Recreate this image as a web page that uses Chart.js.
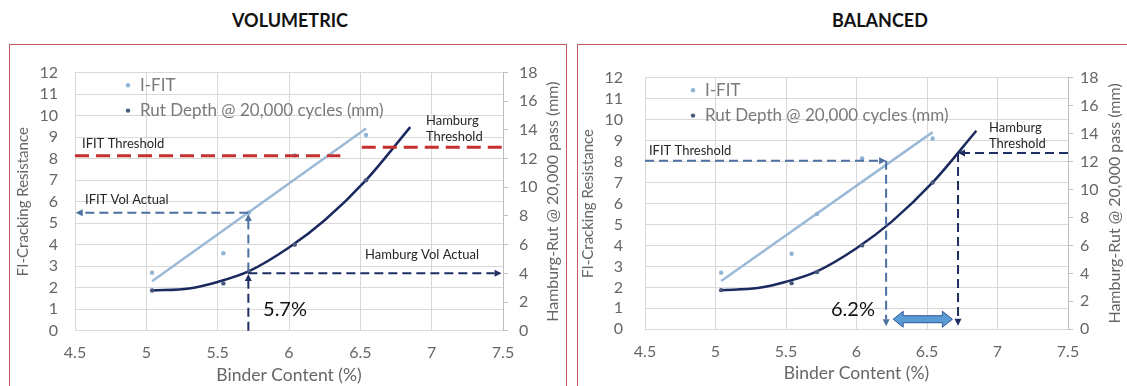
<!DOCTYPE html>
<html>
<head>
<meta charset="utf-8">
<script src="https://cdn.jsdelivr.net/npm/chart.js@4.4.1/dist/chart.umd.min.js"></script>
<style>
  html, body { margin: 0; padding: 0; background: #fff; width: 1127px; height: 386px; overflow: hidden; position: relative; }
  .title { position: absolute; top: 9px; font: bold 18px Lato, sans-serif; color: #111; transform: translateX(-50%); white-space: nowrap; }
  .frame { position: absolute; border: 1.5px solid #c75b5b; box-sizing: border-box; }
  canvas { position: absolute; }
</style>
</head>
<body>
<div class="title" style="left:290px">VOLUMETRIC</div>
<div class="title" style="left:880px">BALANCED</div>
<div class="frame" style="left:9px;top:44px;width:558px;height:380px"></div>
<div class="frame" style="left:577px;top:44px;width:570px;height:380px"></div>
<canvas id="vol" width="553" height="340" style="left:11px;top:46px"></canvas>
<canvas id="bal" width="548" height="340" style="left:579px;top:46px"></canvas>
<script>
// Measured mixes: binder content vs. I-FIT flexibility index and Hamburg rut depth
const binderContent = [5.04, 5.54, 5.72, 6.04, 6.54];
const ifitIndex     = [2.7, 3.6, 5.5, 8.15, 9.1];
const rutDepthMm    = [2.8, 3.3, 4.1, 6.0, 10.5];

// Trendlines (linear for I-FIT, polynomial for rut depth)
const ifitTrendX = [5.04, 6.54];
const ifitTrendY = [2.3, 9.4];
const rutTrendX  = [5.04, 5.3, 5.5, 5.72, 6.0, 6.25, 6.54, 6.85];
const rutTrendMm = [2.8, 2.95, 3.4, 4.15, 5.8, 7.7, 10.5, 14.2];

// Axis ticks
const binderTicks = [4.5, 5, 5.5, 6, 6.5, 7, 7.5];
const fiTicks     = [0, 1, 2, 3, 4, 5, 6, 7, 8, 9, 10, 11, 12];
const rutTicks    = [0, 2, 4, 6, 8, 10, 12, 14, 16, 18];

// Design limits and the binder contents they give
const volIfitThreshold = 8.13;   // FI
const volRutThreshold  = 12.8;   // mm
const volActualBinder  = 5.715;  // %
const volActualFi      = 5.48;
const volActualRut     = 4.0;
const balIfitThreshold = 8.04;
const balRutThreshold  = 12.6;
const balIfitBinder    = 6.21;
const balRutBinder     = 6.72;

const C = {
  ifit: '#9bbad8', ifitDot: '#8fb3d3',
  rut: '#1b2a5e', rutDot: '#48587e',
  red: '#c4302f', steel: '#4c70a0', navy: '#1f2f63',
  grid: '#d9d9d9', tick: '#666666', text: '#262626'
};
const FONT = 'Lato, sans-serif';

function pts(xs, ys) { return xs.map((x, i) => ({ x, y: ys[i] })); }

// Dashed guide lines, arrowheads and callout text, placed in data coordinates
const guidePlugin = {
  id: 'guides',
  afterDatasetsDraw(chart, args, opts) {
    const { ctx, scales } = chart;
    const xs = scales.x;
    for (const g of opts.items) {
      const ys = scales[g.axis || 'y'];
      ctx.save();
      if (g.type === 'line') {
        const x0 = xs.getPixelForValue(g.from[0]), y0 = ys.getPixelForValue(g.from[1]);
        const x1 = xs.getPixelForValue(g.to[0]),   y1 = ys.getPixelForValue(g.to[1]);
        const len = Math.hypot(x1 - x0, y1 - y0);
        const ux = (x1 - x0) / len, uy = (y1 - y0) / len;
        const head = g.arrow ? 7 : 0;
        ctx.strokeStyle = g.color; ctx.lineWidth = g.width; ctx.setLineDash(g.dash);
        ctx.beginPath();
        ctx.moveTo(x0, y0);
        ctx.lineTo(x1 - ux * head, y1 - uy * head);
        ctx.stroke();
        if (g.arrow) {
          ctx.setLineDash([]);
          ctx.fillStyle = g.color;
          const bx = x1 - ux * head, by = y1 - uy * head, w = 3.5;
          ctx.beginPath();
          ctx.moveTo(x1, y1);
          ctx.lineTo(bx - uy * w, by + ux * w);
          ctx.lineTo(bx + uy * w, by - ux * w);
          ctx.closePath();
          ctx.fill();
        }
      } else if (g.type === 'text') {
        ctx.font = g.font; ctx.fillStyle = g.color || C.text;
        ctx.textAlign = 'left'; ctx.textBaseline = 'middle';
        const x = xs.getPixelForValue(g.x), y = ys.getPixelForValue(g.y);
        [].concat(g.text).forEach((t, i) => ctx.fillText(t, x, y + i * (g.lineHeight || 0)));
      } else if (g.type === 'dblarrow') {
        const xa = xs.getPixelForValue(g.x0), xb = xs.getPixelForValue(g.x1), y = ys.getPixelForValue(g.y);
        const hl = 10, bh = 3.5, hh = 8;
        ctx.beginPath();
        ctx.moveTo(xa, y);
        ctx.lineTo(xa + hl, y - hh); ctx.lineTo(xa + hl, y - bh);
        ctx.lineTo(xb - hl, y - bh); ctx.lineTo(xb - hl, y - hh);
        ctx.lineTo(xb, y);
        ctx.lineTo(xb - hl, y + hh); ctx.lineTo(xb - hl, y + bh);
        ctx.lineTo(xa + hl, y + bh); ctx.lineTo(xa + hl, y + hh);
        ctx.closePath();
        ctx.fillStyle = '#5b9bd5'; ctx.fill();
        ctx.strokeStyle = '#2f5597'; ctx.lineWidth = 1; ctx.stroke();
      }
      ctx.restore();
    }
  }
};

// Legend drawn inside the plot area, one row per marker series
const insideLegend = {
  id: 'insideLegend',
  afterDraw(chart, args, opts) {
    const { ctx, chartArea } = chart;
    ctx.save();
    ctx.font = '17px ' + FONT; ctx.textBaseline = 'middle'; ctx.textAlign = 'left';
    opts.datasets.forEach((di, row) => {
      const ds = chart.data.datasets[di];
      const y = chartArea.top + opts.top + row * opts.rowGap;
      ctx.fillStyle = ds.backgroundColor;
      ctx.beginPath(); ctx.arc(chartArea.left + opts.dotX, y, 2.2, 0, Math.PI * 2); ctx.fill();
      ctx.fillStyle = '#7a7a7a';
      ctx.fillText(ds.label, chartArea.left + opts.textX, y);
    });
    ctx.restore();
  }
};

// Secondary-axis title, reading bottom to top beside the right-hand ticks
const rightTitle = {
  id: 'rightTitle',
  afterDraw(chart, args, opts) {
    const { ctx, chartArea, width } = chart;
    ctx.save();
    ctx.translate(width - opts.inset, (chartArea.top + chartArea.bottom) / 2);
    ctx.rotate(-Math.PI / 2);
    ctx.font = '16px ' + FONT; ctx.fillStyle = C.tick;
    ctx.textAlign = 'center'; ctx.textBaseline = 'middle';
    ctx.fillText(opts.text, 0, 0);
    ctx.restore();
  }
};

function setTicks(list) {
  return scale => { scale.ticks = list.map(v => ({ value: v })); };
}
const plain = v => String(v);

function makeChart(id, g, guides) {
  return new Chart(document.getElementById(id), {
    type: 'scatter',
    data: {
      datasets: [
        { label: 'I-FIT', data: pts(binderContent, ifitIndex), yAxisID: 'y',
          pointRadius: 2.2, pointBorderWidth: 0, backgroundColor: C.ifitDot, borderColor: C.ifitDot },
        { label: 'Rut Depth @ 20,000 cycles (mm)', data: pts(binderContent, rutDepthMm), yAxisID: 'y1',
          pointRadius: 2.2, pointBorderWidth: 0, backgroundColor: C.rutDot, borderColor: C.rutDot },
        { label: 'I-FIT trend', data: pts(ifitTrendX, ifitTrendY), yAxisID: 'y', showLine: true,
          pointRadius: 0, borderColor: C.ifit, borderWidth: 2.5 },
        { label: 'Rut trend', data: pts(rutTrendX, rutTrendMm), yAxisID: 'y1', showLine: true,
          pointRadius: 0, borderColor: C.rut, borderWidth: 2.5, cubicInterpolationMode: 'monotone' }
      ]
    },
    options: {
      responsive: false, animation: false, devicePixelRatio: 1,
      layout: { padding: { top: g.top, left: 0, right: 0, bottom: 0 } },
      plugins: {
        legend: { display: false }, tooltip: { enabled: false },
        guides: { items: guides },
        insideLegend: { datasets: [0, 1], dotX: g.legDot, textX: g.legText, top: 12.6, rowGap: 25.4 },
        rightTitle: { text: 'Hamburg-Rut @ 20,000 pass (mm)', inset: g.y1TitleInset }
      },
      scales: {
        x: {
          type: 'linear', min: 4.5, max: 7.5,
          afterBuildTicks: setTicks(binderTicks),
          afterFit: s => { s.height = g.xH; },
          grid: { color: C.grid, drawTicks: false, lineWidth: 1 },
          border: { display: true, color: C.grid },
          ticks: { color: C.tick, font: { family: FONT, size: 16 }, padding: g.xTickPad,
                   maxRotation: 0, autoSkip: false, callback: plain },
          title: { display: true, text: 'Binder Content (%)', color: C.tick,
                   font: { family: FONT, size: 17.5 }, padding: { top: 0, bottom: g.xTitlePad } }
        },
        y: {
          type: 'linear', position: 'left', min: 0, max: 12,
          afterBuildTicks: setTicks(fiTicks),
          afterFit: s => { s.width = g.yW; },
          grid: { color: C.grid, drawTicks: false },
          border: { display: true, color: C.grid },
          ticks: { color: C.tick, font: { family: FONT, size: 16 }, padding: g.yTickPad,
                   autoSkip: false, callback: plain },
          title: { display: true, text: 'FI-Cracking Resistance', color: C.tick,
                   font: { family: FONT, size: 15 }, padding: { top: g.yTitlePad, bottom: 0 } }
        },
        y1: {
          type: 'linear', position: 'right', min: 0, max: 18,
          afterBuildTicks: setTicks(rutTicks),
          afterFit: s => { s.width = g.y1W; },
          grid: { drawOnChartArea: false, drawTicks: true, tickLength: 5, color: '#bfbfbf' },
          border: { display: true, color: '#bfbfbf' },
          ticks: { color: C.tick, font: { family: FONT, size: 16 }, padding: g.y1TickPad,
                   autoSkip: false, callback: plain },
          title: { display: false }
        }
      }
    },
    plugins: [guidePlugin, insideLegend, rightTitle]
  });
}

const labelFont = '13px ' + FONT;
const pctFont = '20px ' + FONT;

const volGuides = [
  { type: 'line', from: [4.5, volIfitThreshold], to: [6.36, volIfitThreshold], color: C.red, width: 3, dash: [14, 7] },
  { type: 'line', axis: 'y1', from: [6.51, volRutThreshold], to: [7.5, volRutThreshold], color: C.red, width: 3, dash: [14, 7] },
  { type: 'line', from: [volActualBinder, volActualFi], to: [4.505, volActualFi], color: C.steel, width: 2, dash: [9, 5], arrow: true },
  { type: 'line', from: [volActualBinder, 2.75], to: [volActualBinder, 5.42], color: C.steel, width: 2, dash: [9, 5], arrow: true },
  { type: 'line', axis: 'y1', from: [volActualBinder, 0], to: [volActualBinder, 3.95], color: C.navy, width: 2, dash: [9, 5], arrow: true },
  { type: 'line', axis: 'y1', from: [volActualBinder, volActualRut], to: [7.49, volActualRut], color: C.navy, width: 2, dash: [9, 5], arrow: true },
  { type: 'text', x: 4.549, y: 8.67, text: 'IFIT Threshold', font: labelFont },
  { type: 'text', x: 4.57, y: 6.08, text: 'IFIT Vol Actual', font: labelFont },
  { type: 'text', x: 6.96, y: 9.78, text: ['Hamburg', 'Threshold'], lineHeight: 16, font: labelFont },
  { type: 'text', x: 6.533, y: 3.51, text: 'Hamburg Vol Actual', font: labelFont },
  { type: 'text', x: 5.818, y: 1.0, text: '5.7%', font: pctFont, color: '#111' }
];

const balGuides = [
  { type: 'line', from: [4.5, balIfitThreshold], to: [balIfitBinder, balIfitThreshold], color: C.steel, width: 2, dash: [9, 5], arrow: true },
  { type: 'line', from: [balIfitBinder, balIfitThreshold], to: [balIfitBinder, 0.15], color: C.steel, width: 2, dash: [9, 5], arrow: true },
  { type: 'line', axis: 'y1', from: [7.5, balRutThreshold], to: [balRutBinder, balRutThreshold], color: C.navy, width: 2, dash: [9, 5], arrow: true },
  { type: 'line', axis: 'y1', from: [balRutBinder, balRutThreshold], to: [balRutBinder, 0.25], color: C.navy, width: 2, dash: [9, 5], arrow: true },
  { type: 'dblarrow', x0: 6.26, x1: 6.68, y: 0.48 },
  { type: 'text', x: 4.528, y: 8.52, text: 'IFIT Threshold', font: labelFont },
  { type: 'text', x: 6.94, y: 9.62, text: ['Hamburg', 'Threshold'], lineHeight: 16, font: labelFont },
  { type: 'text', x: 5.819, y: 0.92, text: '6.2%', font: pctFont, color: '#111' }
];

makeChart('vol', { top: 14.7, yW: 64, y1W: 61, xH: 55.3, xTickPad: 13, xTitlePad: 0,
  yTickPad: 17, yTitlePad: 3, y1TickPad: 11, y1TitleInset: 11, legDot: 53, legText: 65 }, volGuides);
makeChart('bal', { top: 10.7, yW: 66, y1W: 59, xH: 56.7, xTickPad: 12.8, xTitlePad: 2,
  yTickPad: 22, yTitlePad: 0, y1TickPad: 7, y1TitleInset: 12, legDot: 48, legText: 60 }, balGuides);
</script>
</body>
</html>
